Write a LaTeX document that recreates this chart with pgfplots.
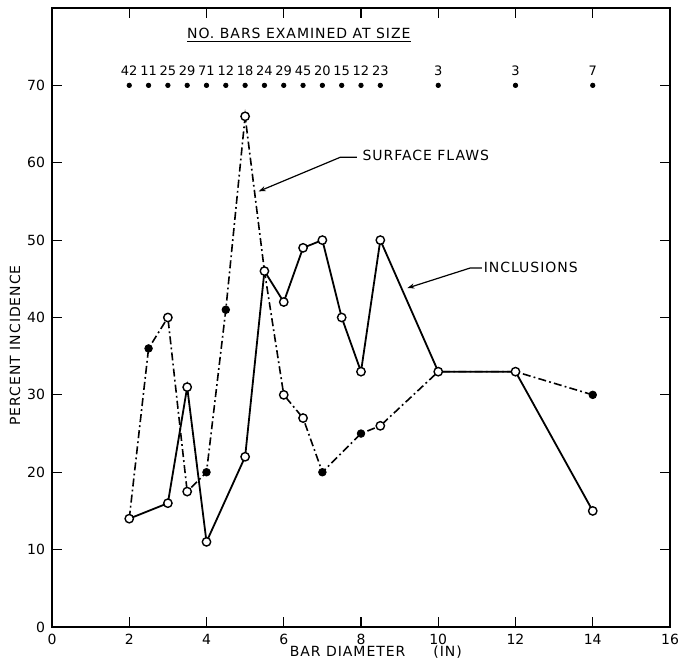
\documentclass[border=0pt]{standalone}
\usepackage{fontspec}
\setmainfont{DejaVu Sans}
\newfontfamily\lbl{DejaVu Sans}[LetterSpace=7]
\usepackage{pgfplots}
\pgfplotsset{compat=1.18}
\usetikzlibrary{arrows.meta}

\pgfplotstableread{
x y
2 14
2.5 36
3 40
3.5 17.5
4 20
4.5 41
5 66
5.5 46
6 30
6.5 27
7 20
8 25
8.5 26
10 33
12 33
14 30
}\surface

\pgfplotstableread{
x y
2 14
3 16
3.5 31
4 11
5 22
5.5 46
6 42
6.5 49
7 50
7.5 40
8 33
8.5 50
10 33
12 33
14 15
}\inclusions

\pgfplotstableread{
x y
2 14
3 40
3.5 17.5
5 66
5.5 46
6 30
6.5 27
8.5 26
10 33
12 33
3 16
3.5 31
4 11
5 22
6 42
6.5 49
7 50
7.5 40
8 33
8.5 50
14 15
}\openmarks

\pgfplotstableread{
x y
2.5 36
4 20
4.5 41
7 20
8 25
14 30
}\filledmarks

\pgfplotstableread{
x y n
2 70 42
2.5 70 11
3 70 25
3.5 70 29
4 70 71
4.5 70 12
5 70 18
5.5 70 24
6 70 29
6.5 70 45
7 70 20
7.5 70 15
8 70 12
8.5 70 23
10 70 3
12 70 3
14 70 7
}\counts

\begin{document}
\begin{tikzpicture}[font=\fontsize{7}{8}\selectfont]
\begin{axis}[
  width=309pt, height=309.5pt, scale only axis,
  xmin=0, xmax=16, ymin=0, ymax=80,
  xtick={0,2,...,16}, ytick={0,10,...,70},
  tick align=inside, major tick length=5pt,
  tick style={line width=0.6pt, black},
  axis line style={line width=0.9pt},
  /pgf/number format/assume math mode=true,
  ticklabel style={font=\fontsize{7}{8}\selectfont},
  xlabel={BAR DIAMETER\qquad(IN)},
  ylabel={PERCENT\ INCIDENCE},
  xlabel style={at={(axis description cs:0.524,-0.041)}, anchor=center, inner sep=0pt, font=\lbl\fontsize{7}{8}\selectfont},
  ylabel style={at={(axis description cs:-0.06,0.455)}, anchor=center, inner sep=0pt, font=\lbl\fontsize{7}{8}\selectfont},
  clip=false,
]
% surface flaws (dash-dot)
\addplot[black, line width=0.8pt, dash pattern=on 4pt off 1.6pt on 0.9pt off 1.6pt] table {\surface};
% inclusions (solid)
\addplot[black, line width=0.9pt, solid] table {\inclusions};
% open markers
\addplot[only marks, mark=*, mark size=2.1pt, mark options={fill=white, draw=black, line width=0.7pt, solid}] table {\openmarks};
% filled markers
\addplot[only marks, mark=*, mark size=1.9pt, mark options={fill=black, draw=black, solid}] table {\filledmarks};
% counts row
\addplot[only marks, mark=*, mark size=1.1pt, mark options={fill=black, draw=black},
  nodes near coords, point meta=explicit symbolic,
  every node near coord/.append style={font=\fontsize{6.5}{7}\selectfont, yshift=1.2pt}]
  table[meta=n] {\counts};

\node[font=\lbl\fontsize{7}{8}\selectfont] at (axis cs:6.39,76.5) {\underline{NO. BARS EXAMINED\ AT\ SIZE}};

\draw[line width=0.6pt, -{Stealth[length=3.5pt,width=2.5pt]}] (axis cs:7.89,60.7) -- (axis cs:7.46,60.7) -- (axis cs:5.35,56.3);
\node[anchor=west, inner sep=0pt, font=\lbl\fontsize{7}{8}\selectfont] at (axis cs:8.03,60.9) {SURFACE\ FLAWS};

\draw[line width=0.6pt, -{Stealth[length=3.5pt,width=2.5pt]}] (axis cs:11.13,46.4) -- (axis cs:10.83,46.4) -- (axis cs:9.2,43.8);
\node[anchor=west, inner sep=0pt, font=\lbl\fontsize{7}{8}\selectfont] at (axis cs:11.17,46.5) {INCLUSIONS};

\draw[line width=1.4pt] (rel axis cs:0,0) -- (rel axis cs:0,1);
\coordinate (bl) at (rel axis cs:0,0);
\coordinate (tr) at (rel axis cs:1,1);
\end{axis}
\pgfresetboundingbox
\path ([shift={(-26pt,-17pt)}]bl) rectangle ([shift={(5pt,4pt)}]tr);
\end{tikzpicture}
\end{document}
